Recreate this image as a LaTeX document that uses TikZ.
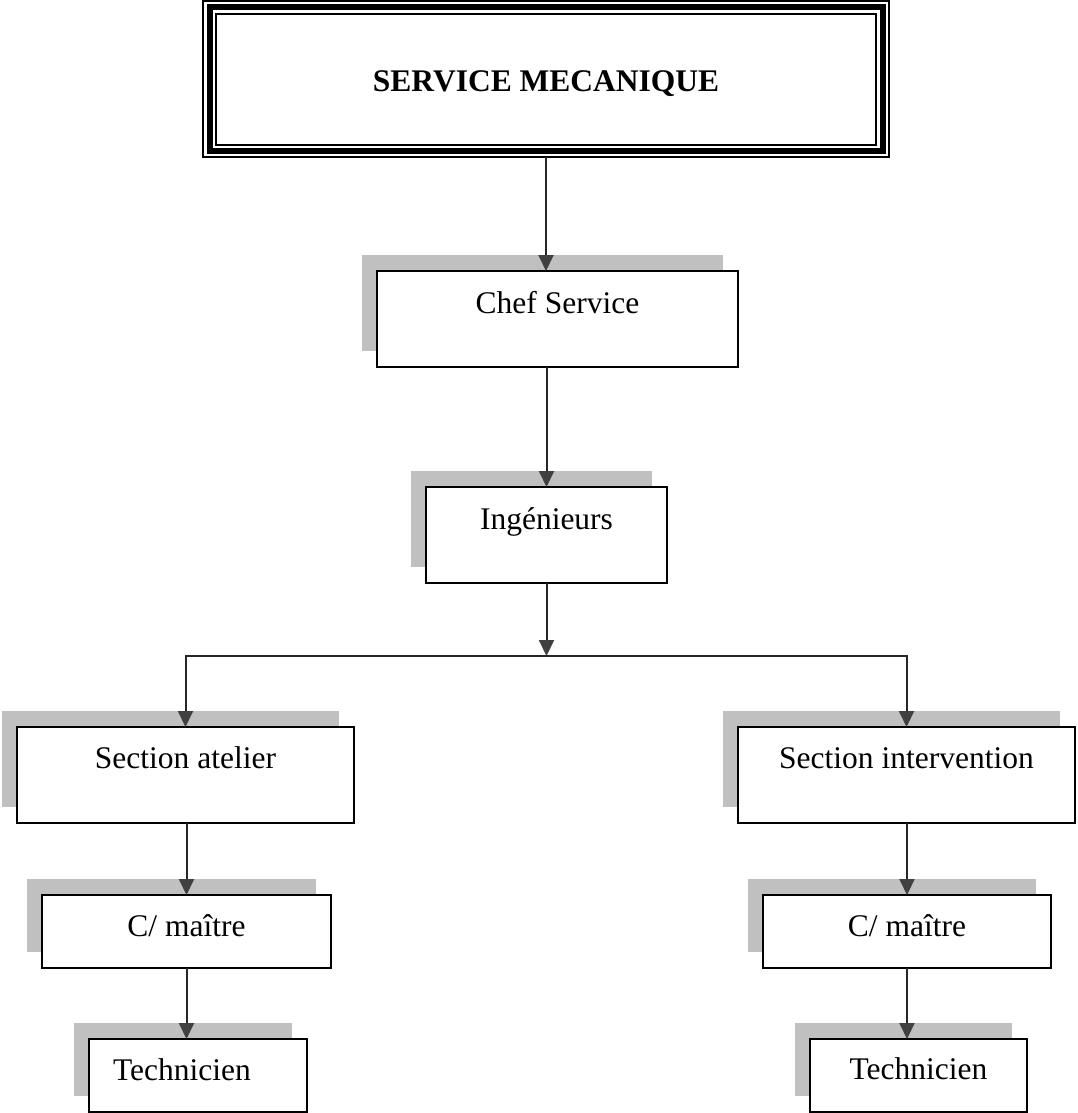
\documentclass[tikz,border=0pt]{standalone}
\usepackage{fontspec}
\setmainfont{Liberation Serif}
\usetikzlibrary{arrows.meta,shadows}
\definecolor{shadowgray}{RGB}{192,192,192}
\definecolor{tipgray}{RGB}{64,64,64}
\begin{document}
\begin{tikzpicture}[x=1pt,y=-1pt,
  box/.style={draw=black, line width=2pt, fill=white, inner sep=0pt, outer sep=0pt, anchor=north west,
    general shadow={fill=shadowgray, shadow xshift=-15pt, shadow yshift=16pt}},
  lbl/.style={anchor=base, font=\fontsize{31.5}{37}\selectfont, inner sep=0pt},
  conn/.style={line width=2pt, draw=black!85},
  arr/.style={conn, -{Triangle[width=15pt,length=16pt,fill=tipgray,color=tipgray]}}]
\useasboundingbox (0,0) rectangle (1077,1113);
\fill[white] (0,0) rectangle (1077,1113);

% title frame
\node[draw=black, line width=2pt, inner sep=0pt, outer sep=0pt, minimum width=686pt, minimum height=156pt, anchor=north west] (top) at (203,1) {};
\draw[line width=6pt] ([shift={(6.5,6.5)}]top.north west) rectangle ([shift={(-6.5,-6.5)}]top.south east);
\draw[line width=2pt] ([shift={(13,13)}]top.north west) rectangle ([shift={(-13.5,-12.5)}]top.south east);
\node[lbl, font=\bfseries\fontsize{31.5}{37}\selectfont] (toptxt) at (546,92) {SERVICE MECANIQUE};

% boxes
\node[box, minimum width=361pt, minimum height=96pt] (chef) at (377,271) {};
\node[box, minimum width=241pt, minimum height=96pt] (ing) at (426,487) {};
\node[box, minimum width=337pt, minimum height=96pt] (sa) at (17,727) {};
\node[box, minimum width=337pt, minimum height=96pt] (si) at (738,727) {};
\node[box, minimum width=289pt, minimum height=73pt] (cma) at (42,895) {};
\node[box, minimum width=288pt, minimum height=73pt] (cmb) at (763,895) {};
\node[box, minimum width=218pt, minimum height=73pt] (ta) at (89,1039) {};
\node[box, minimum width=217pt, minimum height=73pt] (tb) at (810,1039) {};

% labels
\node[lbl] (chefl) at ([yshift=-42pt]chef.north) {Chef Service};
\node[lbl] (ingl) at ([yshift=-42pt]ing.north) {Ingénieurs};
\node[lbl] (sal) at ([yshift=-41pt]sa.north) {Section atelier};
\node[lbl] (sil) at ([yshift=-41pt]si.north) {Section intervention};
\node[lbl] (cmal) at ([yshift=-41pt]cma.north) {C/ maître};
\node[lbl] (cmbl) at ([yshift=-41pt]cmb.north) {C/ maître};
\node[lbl] (tal) at ([xshift=-16pt,yshift=-41pt]ta.north) {Technicien};
\node[lbl] (tbl) at ([yshift=-40pt]tb.north) {Technicien};

% connectors
\draw[arr] (top.south) -- (top.south |- chef.north);
\draw[arr] (ing.north |- chef.south) -- (ing.north);
\coordinate (jc) at (546.5,656);
\draw[arr] (ing.south) -- (jc);
\coordinate (jl) at (sa.north |- jc);
\coordinate (jr) at (si.north |- jc);
\draw[conn, line cap=rect] (jl) -- (jr);
\draw[arr] (jl) -- (sa.north);
\draw[arr] (jr) -- (si.north);
\draw[arr] (cma.north |- sa.south) -- (cma.north);
\draw[arr] (cma.south) -- (cma.south |- ta.north);
\draw[arr] (cmb.north |- si.south) -- (cmb.north);
\draw[arr] (cmb.south) -- (cmb.south |- tb.north);
\end{tikzpicture}
\end{document}
